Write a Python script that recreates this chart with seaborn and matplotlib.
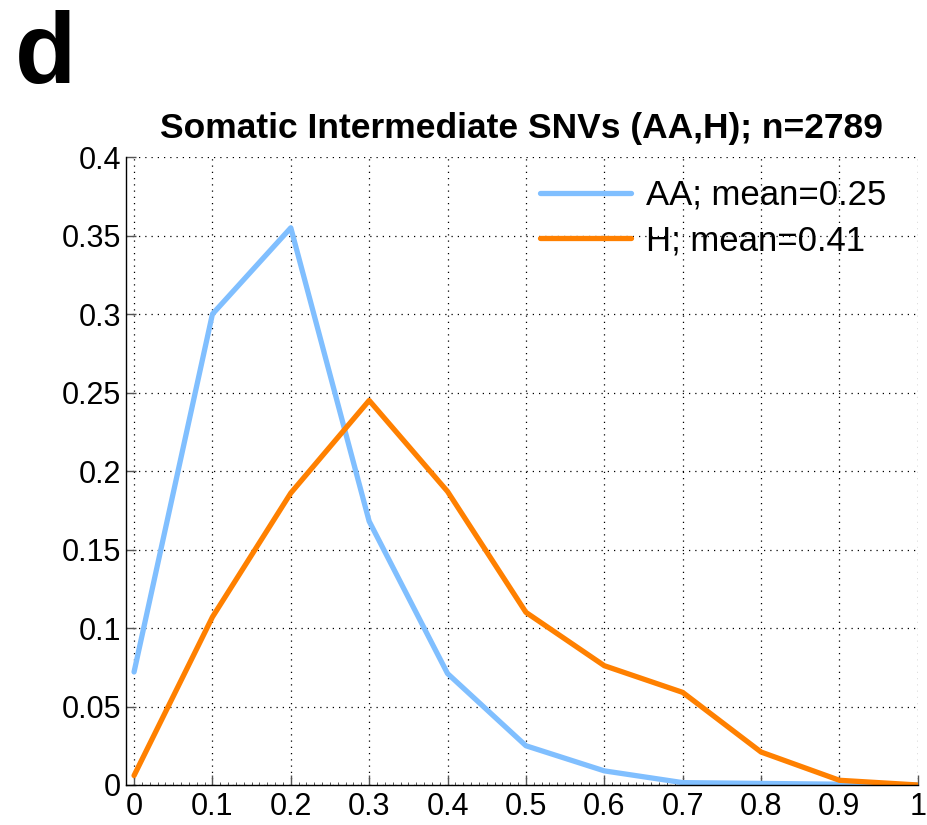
import numpy as np
import pandas as pd
import matplotlib
matplotlib.use('Agg')
import matplotlib.pyplot as plt
from matplotlib.ticker import MultipleLocator
import seaborn as sns

# Dữ liệu
vaf_bins = [0.0, 0.1, 0.2, 0.3, 0.4, 0.5, 0.6, 0.7, 0.8, 0.9, 1.0]
aa_freq = [0.072, 0.300, 0.355, 0.168, 0.071, 0.025, 0.009, 0.0015, 0.001, 0.0005, 0.0]
h_freq = [0.006, 0.107, 0.186, 0.245, 0.187, 0.110, 0.076, 0.059, 0.021, 0.003, 0.0]
series_labels = ['AA; mean=0.25', 'H; mean=0.41']
series_colors = ['#80BFFF', '#FF8000']
title_text = 'Somatic Intermediate SNVs (AA,H); n=2789'
x_ticks = [0.0, 0.1, 0.2, 0.3, 0.4, 0.5, 0.6, 0.7, 0.8, 0.9, 1.0]
x_ticklabels = ['0', '0.1', '0.2', '0.3', '0.4', '0.5', '0.6', '0.7', '0.8', '0.9', '1']
y_ticks = [0.0, 0.05, 0.1, 0.15, 0.2, 0.25, 0.3, 0.35, 0.4]
y_ticklabels = ['0', '0.05', '0.1', '0.15', '0.2', '0.25', '0.3', '0.35', '0.4']

df = pd.DataFrame({
    'vaf': vaf_bins * 2,
    'freq': aa_freq + h_freq,
    'group': [series_labels[0]] * len(vaf_bins) + [series_labels[1]] * len(vaf_bins),
})

sns.set_style('white')
plt.rcParams['font.family'] = ['Liberation Sans', 'DejaVu Sans']
plt.rcParams['text.color'] = 'black'
plt.rcParams['xtick.color'] = 'black'
plt.rcParams['ytick.color'] = 'black'

fig = plt.figure(figsize=(9.28, 8.25), dpi=100)
ax = fig.add_axes([0.136, 0.0485, 0.853, 0.761])

sns.lineplot(data=df, x='vaf', y='freq', hue='group',
             palette=dict(zip(series_labels, series_colors)),
             linewidth=3.8, ax=ax)

ax.set_xlim(-0.01, 1.0)
ax.set_ylim(0, 0.4)
ax.set_xticks(x_ticks)
ax.set_xticklabels(x_ticklabels)
ax.set_yticks(y_ticks)
ax.set_yticklabels(y_ticklabels)
ax.xaxis.set_minor_locator(MultipleLocator(0.01))
ax.tick_params(which='both', direction='in', labelsize=22,
               bottom=True, left=True)
ax.tick_params(which='major', length=7, width=1, color='#555555')
ax.tick_params(axis='x', which='major', pad=5)
ax.tick_params(axis='x', which='minor', length=2.5, width=0.7, color='#555555')

ax.grid(True, which='major', linestyle=(0, (1, 4)), color='black', linewidth=0.9)
for side in ['top', 'right']:
    ax.spines[side].set_visible(False)
for side in ['left', 'bottom']:
    ax.spines[side].set_color('black')
    ax.spines[side].set_linewidth(1)

ax.set_xlabel('')
ax.set_ylabel('')
ax.set_title(title_text, fontsize=25.5, fontweight='bold', pad=14, color='black')

leg = ax.legend(loc='upper right', frameon=False, fontsize=25,
                handlelength=2.6, handletextpad=0.45, labelspacing=0.35,
                bbox_to_anchor=(1.0, 1.015))
for t in leg.get_texts():
    t.set_color('black')

fig.text(0.016, 0.874, 'd', fontsize=72, fontweight='bold', ha='left', va='bottom',
         color='black')

fig.savefig('out.png', dpi=100)
